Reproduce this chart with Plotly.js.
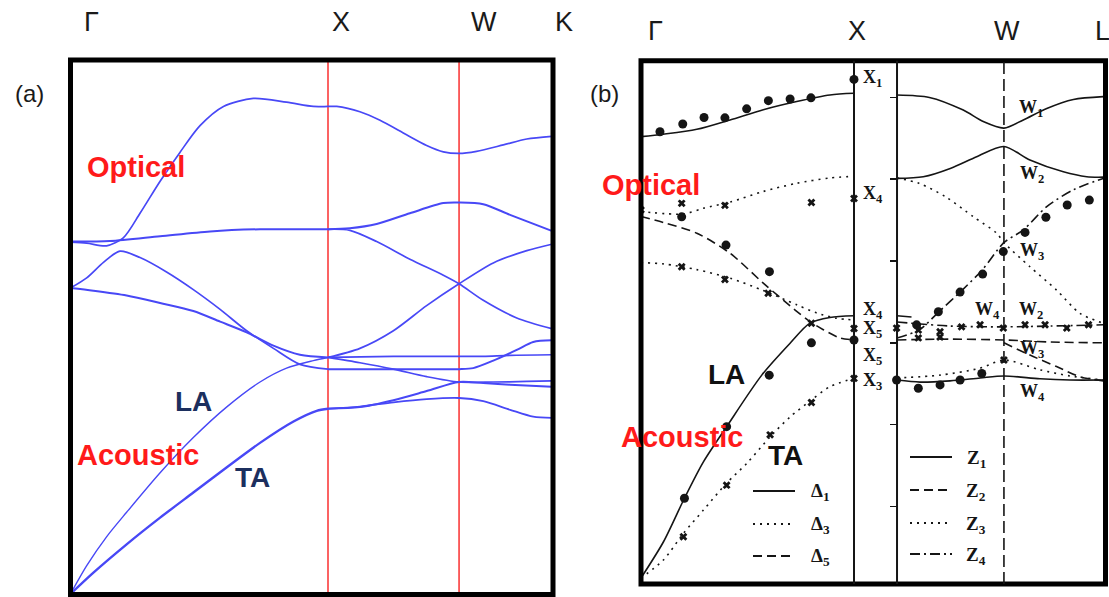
<!DOCTYPE html>
<html>
<head>
<meta charset="utf-8">
<script src="https://cdn.plot.ly/plotly-3.0.1.min.js"></script>
<style>
  html, body { margin: 0; padding: 0; background: #fff; }
  #plot { width: 1109px; height: 597px; }
</style>
</head>
<body>
<div id="plot"></div>
<script>
// ---------- (a) calculated dispersion, path Γ-X-W-K (k in units of Γ-X) ----------
const symA = [0, 1, 1.509, 1.869];           // Γ, X, W, K
const aOptTop = { k: [0, 0.063, 0.140, 0.205, 0.270, 0.348, 0.425, 0.503, 0.594, 0.710, 0.839, 0.943, 1.0, 1.034, 1.124, 1.202, 1.305, 1.383, 1.448, 1.509, 1.577, 1.681, 1.772, 1.869],
                  f: [6.59, 6.57, 6.52, 6.67, 7.13, 7.73, 8.27, 8.77, 9.13, 9.28, 9.21, 9.13, 9.13, 9.13, 9.03, 8.87, 8.60, 8.40, 8.28, 8.25, 8.29, 8.41, 8.52, 8.57] };
const aOptFlat = { k: [0, 0.153, 0.348, 0.542, 0.736, 1.0, 1.085, 1.189, 1.318, 1.448, 1.509, 1.603, 1.707, 1.869],
                   f: [6.60, 6.61, 6.70, 6.79, 6.83, 6.83, 6.85, 6.93, 7.13, 7.32, 7.33, 7.30, 7.10, 6.80] };
const aOptXW = { k: [1.0, 1.085, 1.189, 1.318, 1.448, 1.509, 1.603, 1.733, 1.869],
                 f: [6.83, 6.81, 6.60, 6.27, 5.97, 5.81, 5.50, 5.17, 4.97] };
const aOptBump = { k: [0, 0.063, 0.128, 0.192, 0.270, 0.373, 0.477, 0.581, 0.684, 0.788, 0.891, 1.0],
                   f: [5.73, 5.92, 6.21, 6.42, 6.30, 6.03, 5.70, 5.33, 4.93, 4.60, 4.30, 4.21] };
const aOptLow = { k: [0, 0.089, 0.218, 0.348, 0.477, 0.581, 0.684, 0.788, 0.891, 1.0],
                  f: [5.73, 5.68, 5.59, 5.45, 5.30, 5.10, 4.90, 4.65, 4.48, 4.43] };
const aLA = { k: [0, 0.063, 0.140, 0.218, 0.348, 0.477, 0.606, 0.736, 0.839, 0.943, 1.0],
              f: [0, 0.53, 1.07, 1.53, 2.27, 2.93, 3.50, 3.97, 4.23, 4.37, 4.43] };
const aTA = { k: [0, 0.089, 0.218, 0.348, 0.477, 0.606, 0.736, 0.866, 0.956, 1.0],
              f: [0, 0.40, 0.93, 1.43, 1.90, 2.37, 2.83, 3.23, 3.43, 3.47] };
const aRise = { k: [1.0, 1.124, 1.254, 1.383, 1.509, 1.642, 1.772, 1.869],
                f: [4.43, 4.60, 4.93, 5.40, 5.81, 6.20, 6.43, 6.55] };
const aFlat1 = { k: [1.0, 1.254, 1.509, 1.603, 1.707, 1.869],
                 f: [4.43, 4.45, 4.45, 4.45, 4.47, 4.48] };
const aFall = { k: [1.0, 1.124, 1.254, 1.383, 1.509, 1.642, 1.772, 1.869],
                f: [4.43, 4.33, 4.21, 4.07, 3.97, 3.97, 3.98, 3.99] };
const aFlat2 = { k: [1.0, 1.254, 1.509, 1.564, 1.642, 1.733, 1.797, 1.869],
                 f: [4.21, 4.21, 4.21, 4.23, 4.37, 4.57, 4.72, 4.75] };
const aTA1 = { k: [1.0, 1.124, 1.254, 1.383, 1.509, 1.603, 1.707, 1.869],
               f: [3.47, 3.50, 3.63, 3.80, 3.97, 3.95, 3.92, 3.88] };
const aTA2 = { k: [1.0, 1.124, 1.254, 1.383, 1.509, 1.603, 1.707, 1.797, 1.869],
               f: [3.47, 3.51, 3.59, 3.65, 3.67, 3.61, 3.45, 3.32, 3.30] };

// ---------- (b) measured + model dispersion, Γ-X | X-W-L ----------
const symB = [0, 1, 1.202, 1.704, 2.17];     // Γ, X, X (break), W, L
const bD1Opt = { k: [0, 0.105, 0.262, 0.418, 0.574, 0.731, 0.887, 1.0],
                 f: [10.79, 10.85, 10.97, 11.20, 11.45, 11.65, 11.81, 11.85] };
const bD3Up = { k: [0, 0.199, 0.293, 0.418, 0.574, 0.731, 0.887, 1.0],
                f: [8.96, 8.90, 9.04, 9.19, 9.45, 9.65, 9.78, 9.82] };
const bD5Opt = { k: [0, 0.105, 0.262, 0.418, 0.574, 0.731, 0.793, 0.856, 0.934, 1.0],
                 f: [8.84, 8.69, 8.43, 7.94, 7.21, 6.52, 6.27, 6.07, 5.87, 5.82] };
const bD3Low = { k: [0, 0.105, 0.262, 0.418, 0.574, 0.731, 0.825, 0.918, 1.0],
                 f: [7.71, 7.68, 7.54, 7.33, 7.03, 6.68, 6.48, 6.35, 6.31] };
const bLA = { k: [0, 0.105, 0.204, 0.293, 0.402, 0.567, 0.70, 0.793, 0.887, 1.0],
              f: [0, 0.88, 1.95, 2.84, 3.70, 4.96, 5.74, 6.23, 6.37, 6.41] };
const bTA = { k: [0, 0.105, 0.199, 0.293, 0.402, 0.496, 0.606, 0.70, 0.80, 0.887, 1.0],
              f: [0, 0.44, 1.09, 1.66, 2.32, 2.80, 3.45, 3.94, 4.35, 4.68, 4.88] };
const bZTop = { k: [1.202, 1.354, 1.513, 1.607, 1.704, 1.795, 1.905, 2.03, 2.17],
                f: [11.81, 11.75, 11.44, 11.16, 11.00, 11.20, 11.48, 11.70, 11.77] };
const bZSec = { k: [1.202, 1.325, 1.455, 1.576, 1.704, 1.826, 1.983, 2.093, 2.17],
                f: [9.77, 9.81, 10.02, 10.30, 10.55, 10.22, 9.93, 9.81, 9.80] };
const bZ3Down = { k: [1.202, 1.305, 1.43, 1.561, 1.67, 1.704, 1.826, 1.951, 2.061, 2.17],
                  f: [9.78, 9.65, 9.32, 8.83, 8.43, 8.20, 7.61, 7.04, 6.47, 6.23] };
const bZ4Up = { k: [1.202, 1.305, 1.399, 1.508, 1.602, 1.704, 1.795, 1.905, 2.03, 2.17],
                f: [5.87, 6.06, 6.51, 7.04, 7.53, 8.20, 8.51, 9.08, 9.49, 9.77] };
const bZ1Short = { k: [1.202, 1.27], f: [6.41, 6.38] };
const bZ2Flat = { k: [1.202, 1.451, 1.704, 1.92, 2.17], f: [5.82, 5.84, 5.82, 5.77, 5.75] };
const bZ2Down = { k: [1.704, 1.826, 1.951, 2.061, 2.17], f: [5.75, 5.45, 5.17, 4.92, 4.82] };
const bZ4Mid = { k: [1.202, 1.451, 1.704, 1.92, 2.17], f: [6.26, 6.16, 6.14, 6.16, 6.19] };
const bZ3Low = { k: [1.202, 1.404, 1.592, 1.704, 1.873, 2.014, 2.17], f: [4.89, 4.96, 5.13, 5.33, 5.09, 4.94, 4.84] };
const bZ1Low = { k: [1.202, 1.31, 1.451, 1.592, 1.704, 1.873, 2.014, 2.17], f: [4.84, 4.79, 4.82, 4.89, 4.94, 4.87, 4.84, 4.84] };

// neutron data: filled circles and crosses
const dotsTop = { k: [0.089, 0.196, 0.296, 0.394, 0.496, 0.598, 0.700, 0.798, 1.0],
                  f: [10.91, 11.10, 11.26, 11.25, 11.47, 11.67, 11.71, 11.74, 12.19] };
const dotsOpt = { k: [0.191, 0.399, 0.603], f: [8.83, 8.14, 7.49] };
const dotsLA = { k: [0.204, 0.402, 0.602, 0.80, 1.0], f: [1.95, 3.70, 4.96, 5.75, 5.82] };
const dotsZUp = { k: [1.294, 1.396, 1.498, 1.604, 1.701, 1.803, 1.901, 2.001, 2.105],
                  f: [6.19, 6.51, 6.99, 7.43, 7.98, 8.45, 8.82, 9.12, 9.24] };
const dotsZLow = { k: [1.2, 1.302, 1.404, 1.498, 1.60], f: [4.84, 4.64, 4.72, 4.84, 5.0] };
const crossOptUp = { k: [0, 0.191, 0.394, 0.80, 1.0], f: [9.0, 9.16, 9.11, 9.18, 9.28] };
const crossOptLow = { k: [0.191, 0.394, 0.597, 0.80], f: [7.61, 7.30, 6.96, 6.23] };
const crossTA = { k: [0.199, 0.402, 0.606, 0.80, 1.0, 1.0], f: [1.01, 2.27, 3.50, 4.29, 4.88, 6.10] };
const crossZ = { k: [1.2, 1.302, 1.404, 1.505, 1.592, 1.701, 1.803, 1.897, 1.999, 2.101, 1.704, 1.302, 1.404],
                 f: [6.11, 6.06, 6.02, 6.14, 6.19, 6.11, 6.19, 6.19, 6.11, 6.19, 5.33, 5.87, 5.89] };

// ---------- helpers ----------
const W = 1109, H = 597;
const px = x => x / W;
const py = y => 1 - y / H;
const BLUE = 'rgb(72,72,246)';
const INK = '#151515';

function bandA(br, width) {
  return { type: 'scatter', mode: 'lines', x: br.k, y: br.f, xaxis: 'x', yaxis: 'y',
           line: { color: BLUE, width: width || 1.7, shape: 'spline', smoothing: 0.8 },
           hoverinfo: 'skip', showlegend: false };
}
function bandB(br, dash, width) {
  return { type: 'scatter', mode: 'lines', x: br.k, y: br.f, xaxis: 'x2', yaxis: 'y2',
           line: { color: INK, width: width || 1.6, dash: dash || 'solid', shape: 'spline', smoothing: 0.8 },
           hoverinfo: 'skip', showlegend: false };
}
function pts(set, symbol, size) {
  return { type: 'scatter', mode: 'markers', x: set.k, y: set.f, xaxis: 'x2', yaxis: 'y2',
           marker: { symbol: symbol, size: size, color: INK, line: { width: 0 } },
           hoverinfo: 'skip', showlegend: false };
}

const DOT = '2px,5px', DASH = '9px,5px', DASHDOT = '10px,4px,2px,4px';

const traces = [
  bandA(aOptTop), bandA(aOptFlat, 2.0), bandA(aOptXW), bandA(aOptBump), bandA(aOptLow, 2.0),
  bandA(aLA, 1.4), bandA(aTA, 2.4), bandA(aRise), bandA(aFlat1), bandA(aFall), bandA(aFlat2, 2.0),
  bandA(aTA1, 2.0), bandA(aTA2, 1.8),

  bandB(bD1Opt), bandB(bD3Up, DOT), bandB(bD5Opt, DASH), bandB(bD3Low, DOT),
  bandB(bLA), bandB(bTA, DOT),
  bandB(bZTop), bandB(bZSec), bandB(bZ3Down, DOT), bandB(bZ4Up, DASHDOT),
  bandB(bZ1Short), bandB(bZ2Flat, DASH), bandB(bZ2Down, DASH), bandB(bZ4Mid, DASHDOT),
  bandB(bZ3Low, DOT), bandB(bZ1Low),

  pts(dotsTop, 'circle', 9), pts(dotsOpt, 'circle', 9), pts(dotsLA, 'circle', 9),
  pts(dotsZUp, 'circle', 9), pts(dotsZLow, 'circle', 9),
  pts(crossOptUp, 'x', 7), pts(crossOptLow, 'x', 7), pts(crossTA, 'x', 7), pts(crossZ, 'x', 7),

  // carries the tick axis on the X-W-L frame line
  { type: 'scatter', mode: 'lines', x: [], y: [], xaxis: 'x2', yaxis: 'y3', hoverinfo: 'skip', showlegend: false }
];

// ---------- frames, symmetry lines, legend samples ----------
const shapes = [
  { type: 'rect', xref: 'x domain', yref: 'y domain', x0: 0, x1: 1, y0: 0, y1: 1,
    line: { color: '#000', width: 5 }, layer: 'above' },
  { type: 'rect', xref: 'x2 domain', yref: 'y2 domain', x0: 0, x1: 1, y0: 0, y1: 1,
    line: { color: '#000', width: 5 }, layer: 'above' },
  { type: 'line', xref: 'x', yref: 'y domain', x0: symA[1], x1: symA[1], y0: 0, y1: 1,
    line: { color: 'rgb(250,60,60)', width: 1.6 }, layer: 'below' },
  { type: 'line', xref: 'x', yref: 'y domain', x0: symA[2], x1: symA[2], y0: 0, y1: 1,
    line: { color: 'rgb(250,60,60)', width: 1.6 }, layer: 'below' },
  { type: 'line', xref: 'x2', yref: 'y2 domain', x0: symB[1], x1: symB[1], y0: 0, y1: 1,
    line: { color: INK, width: 2 } },
  { type: 'line', xref: 'x2', yref: 'y2 domain', x0: symB[2], x1: symB[2], y0: 0, y1: 1,
    line: { color: INK, width: 2 } },
  { type: 'line', xref: 'x2', yref: 'y2 domain', x0: symB[3], x1: symB[3], y0: 0, y1: 1,
    line: { color: INK, width: 1.6, dash: '12px,5px' } }
];
const legendRows = [
  { x0: 753, x1: 795, y: 491, dash: 'solid' }, { x0: 753, x1: 795, y: 524, dash: DOT },
  { x0: 753, x1: 795, y: 556, dash: DASH },
  { x0: 910, x1: 952, y: 457, dash: 'solid' }, { x0: 910, x1: 952, y: 490, dash: DASH },
  { x0: 910, x1: 952, y: 523, dash: DOT }, { x0: 910, x1: 952, y: 554, dash: DASHDOT }
];
legendRows.forEach(r => shapes.push({ type: 'line', xref: 'paper', yref: 'paper',
  x0: px(r.x0), x1: px(r.x1), y0: py(r.y), y1: py(r.y), line: { color: INK, width: 2.2, dash: r.dash } }));

// ---------- text ----------
const annotations = [];
function label(text, x, y, font) {
  annotations.push({ text: text, xref: 'paper', yref: 'paper', x: px(x), y: py(y),
    xanchor: 'center', yanchor: 'middle', showarrow: false, font: font });
}
const pathFont = { family: 'Liberation Sans, Arial, sans-serif', size: 27, color: '#1a1a1a' };
[['Γ', 91, 22], ['X', 341, 22], ['W', 484, 22], ['K', 564, 22],
 ['Γ', 655, 31], ['X', 857, 31], ['W', 1007, 31], ['L', 1102, 31]].forEach(t => label(t[0], t[1], t[2], pathFont));

const panelFont = { family: 'Liberation Sans, Arial, sans-serif', size: 24, color: '#1a1a1a' };
label('(a)', 29, 94, panelFont);
label('(b)', 604, 94, panelFont);

const red = { family: 'Liberation Sans, Arial, sans-serif', size: 29, color: '#ff1a1a' };
const navy = { family: 'Liberation Sans, Arial, sans-serif', size: 28, color: '#1c2f5e' };
const black = { family: 'Liberation Sans, Arial, sans-serif', size: 28, color: '#111' };
label('<b>Optical</b>', 136, 167, red);
label('<b>Acoustic</b>', 138, 455, red);
label('<b>LA</b>', 193, 401, navy);
label('<b>TA</b>', 252, 477, navy);
label('<b>Optical</b>', 651, 185, red);
label('<b>Acoustic</b>', 682, 437, red);
label('<b>LA</b>', 726, 374, black);
label('<b>TA</b>', 785, 455, black);

const irrFont = { family: 'Liberation Serif, DejaVu Serif, serif', size: 18, color: INK };
[['X<sub>1</sub>', 872, 79], ['X<sub>4</sub>', 873, 195], ['X<sub>4</sub>', 873, 310],
 ['X<sub>5</sub>', 873, 330], ['X<sub>5</sub>', 873, 356], ['X<sub>3</sub>', 873, 381],
 ['W<sub>1</sub>', 1031, 109], ['W<sub>2</sub>', 1032, 175], ['W<sub>3</sub>', 1032, 251],
 ['W<sub>4</sub>', 987, 310], ['W<sub>2</sub>', 1031, 310], ['W<sub>3</sub>', 1032, 350],
 ['W<sub>4</sub>', 1032, 392]].forEach(t => label('<b>' + t[0] + '</b>', t[1], t[2], irrFont));

const legFont = { family: 'Liberation Serif, DejaVu Serif, serif', size: 19, color: INK };
[['Δ<sub>1</sub>', 820, 492], ['Δ<sub>3</sub>', 820, 525], ['Δ<sub>5</sub>', 820, 557],
 ['Z<sub>1</sub>', 976, 459], ['Z<sub>2</sub>', 976, 492], ['Z<sub>3</sub>', 976, 525],
 ['Z<sub>4</sub>', 976, 556]].forEach(t => label('<b>' + t[0] + '</b>', t[1], t[2], legFont));

// ---------- axes ----------
const hidden = { showgrid: false, zeroline: false, showticklabels: false, ticks: '', showline: false, fixedrange: true };
const layout = {
  width: W, height: H,
  margin: { l: 0, r: 0, t: 0, b: 0 },
  paper_bgcolor: '#fff', plot_bgcolor: '#fff',
  showlegend: false,
  xaxis:  Object.assign({}, hidden, { domain: [px(70.5), px(553)], range: [0, 1.8738], anchor: 'y' }),
  yaxis:  Object.assign({}, hidden, { domain: [py(594.5), py(60)], range: [-0.0094, 10.0], anchor: 'x' }),
  xaxis2: Object.assign({}, hidden, { domain: [px(641), px(1105.5)], range: [0, 2.1808], anchor: 'y2' }),
  yaxis2: Object.assign({}, hidden, { domain: [py(584), py(60.8)], range: [-0.1467, 12.645], anchor: 'x2' }),
  yaxis3: { overlaying: 'y2', anchor: 'free', position: px(897), range: [-0.1467, 12.645],
            showgrid: false, zeroline: false, showline: false, showticklabels: false,
            ticks: 'outside', ticklen: 7, tickwidth: 1.5, tickcolor: INK,
            tickmode: 'linear', tick0: 1.75, dtick: 2, fixedrange: true },
  shapes: shapes,
  annotations: annotations
};

Plotly.newPlot('plot', traces, layout, { staticPlot: true, displayModeBar: false });
</script>
</body>
</html>
